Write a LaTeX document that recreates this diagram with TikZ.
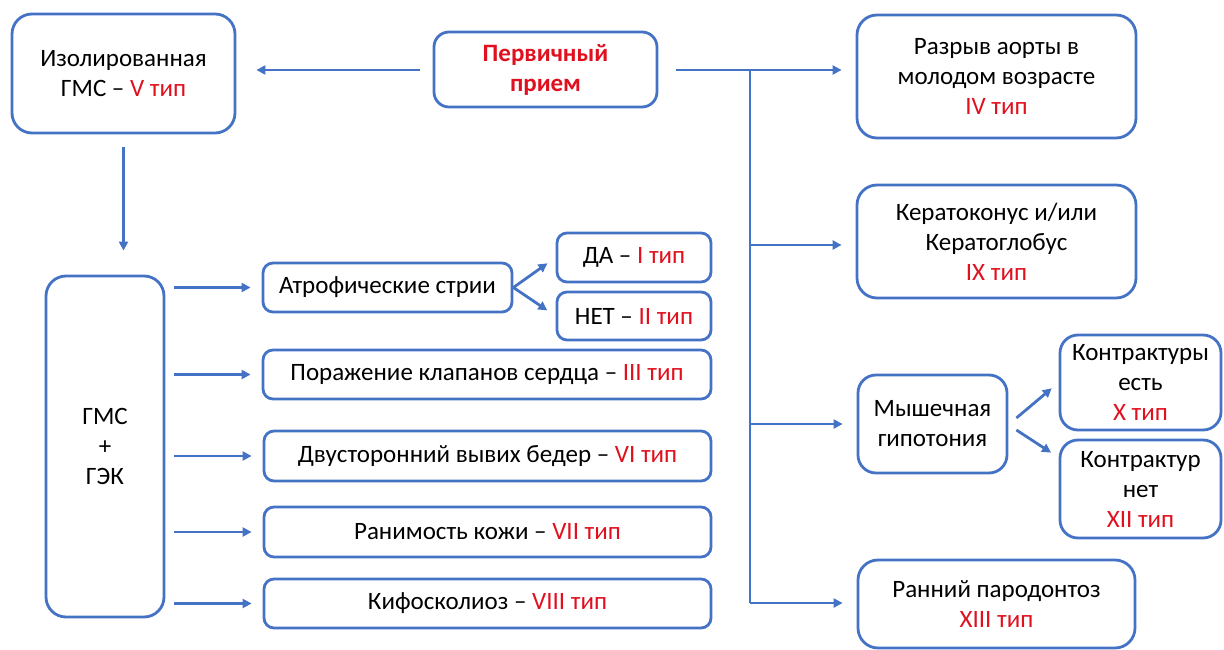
\documentclass[tikz,border=0pt]{standalone}
\usepackage{fontspec}
\setmainfont{Carlito}
\usetikzlibrary{arrows.meta,calc}
\definecolor{lblue}{HTML}{4472C4}
\definecolor{tred}{HTML}{E0101E}
\newcommand{\rt}[1]{\textcolor{tred}{#1}}
\begin{document}
\begin{tikzpicture}[x=1pt,y=-1pt,
  bx/.style={draw=lblue, line width=2.8pt, rounded corners=10pt, align=center, inner sep=0pt,
    font=\fontsize{25}{30}\selectfont, text=black},
  arr/.style={draw=lblue, line width=2.8pt, -{Triangle[length=9pt,width=9pt]}},
  ln/.style={draw=lblue, line width=2.8pt}]
\useasboundingbox (0,0) rectangle (1224,650);

% nodes
\node[bx, minimum width=223pt, minimum height=119pt, rounded corners=20pt] (iso) at (123.5,73.5)
  {Изолированная\\ГМС – \rt{V тип}};
\node[bx, minimum width=223pt, minimum height=75pt, rounded corners=15pt, text=tred, font=\fontsize{25}{30}\selectfont\bfseries] (perv) at (545.5,69.5)
  {Первичный\\прием};
\node[bx, minimum width=279pt, minimum height=123pt, rounded corners=20pt] (aorta) at (996.5,76.5)
  {Разрыв аорты в\\молодом возрасте\\\rt{IV тип}};
\node[bx, minimum width=279pt, minimum height=113pt, rounded corners=20pt] (kerato) at (996.5,241.5)
  {Кератоконус и/или\\Кератоглобус\\\rt{IX тип}};
\node[bx, minimum width=149pt, minimum height=98pt, rounded corners=18pt] (myash) at (932.5,424)
  {Мышечная\\гипотония};
\node[bx, minimum width=161pt, minimum height=95pt, rounded corners=18pt] (kontr1) at (1140.5,382.5)
  {Контрактуры\\есть\\\rt{X тип}};
\node[bx, minimum width=161pt, minimum height=98pt, rounded corners=18pt] (kontr2) at (1140.5,489)
  {Контрактур\\нет\\\rt{XII тип}};
\node[bx, minimum width=277pt, minimum height=88pt, rounded corners=20pt] (paro) at (996.5,604)
  {Ранний пародонтоз\\\rt{XIII тип}};
\node[bx, minimum width=118pt, minimum height=341pt, rounded corners=20pt] (gms) at (105,446.5)
  {ГМС\\+\\ГЭК};
\node[bx, minimum width=249pt, minimum height=49pt] (atro) at (387.5,287.5)
  {Атрофические стрии};
\node[bx, minimum width=154pt, minimum height=49pt] (da) at (634,257.5)
  {ДА – \rt{I тип}};
\node[bx, minimum width=154pt, minimum height=48pt] (net) at (634,316)
  {НЕТ – \rt{II тип}};
\node[bx, minimum width=448pt, minimum height=49pt] (por) at (487,374.5)
  {Поражение клапанов сердца – \rt{III тип}};
\node[bx, minimum width=447pt, minimum height=50pt] (dvus) at (487.5,456)
  {Двусторонний вывих бедер – \rt{VI тип}};
\node[bx, minimum width=447pt, minimum height=50pt] (ran) at (487.5,532)
  {Ранимость кожи – \rt{VII тип}};
\node[bx, minimum width=447pt, minimum height=49pt] (kif) at (487.5,603.5)
  {Кифосколиоз – \rt{VIII тип}};

% trunk coordinates
\coordinate (tTop) at (750,70);
\coordinate (tBot) at (750,603);

% connectors
\draw[arr, shorten <=13pt, shorten >=20pt] (perv.west |- 0,70) -- (iso.east |- 0,70);
\draw[arr, shorten <=18pt, shorten >=14pt] (perv.east |- 0,70) -- (aorta.west |- 0,70);
\draw[ln] (tTop) -- (tBot);
\draw[arr, shorten >=14pt] (tTop |- 0,245) -- (kerato.west |- 0,245);
\draw[arr, shorten >=14pt] (tTop |- myash.west) -- (myash.west);
\draw[arr, shorten >=14pt] (tBot) -- (tBot -| paro.west);

\draw[arr, shorten <=13pt, shorten >=24pt] (iso.south) -- (iso.south |- gms.north);

\draw[arr, shorten <=9pt, shorten >=11pt] (gms.east |- atro.west) -- (atro.west);
\draw[arr, shorten <=9pt, shorten >=11pt] (gms.east |- por.west) -- (por.west);
\draw[arr, shorten <=9pt, shorten >=11pt] (gms.east |- dvus.west) -- (dvus.west);
\draw[arr, shorten <=9pt, shorten >=11pt] (gms.east |- ran.west) -- (ran.west);
\draw[arr, shorten <=9pt, shorten >=11pt] (gms.east |- kif.west) -- (kif.west);

\draw[arr, shorten >=10pt] (atro.east) -- (da.west);
\draw[arr, shorten >=10pt] (atro.east) -- (net.west);

\draw[arr, shorten >=9pt] ($(myash.east)+(8,-6)$) -- (kontr1.west);
\draw[arr, shorten >=9pt] ($(myash.east)+(8,6)$) -- (kontr2.159);
\end{tikzpicture}
\end{document}
